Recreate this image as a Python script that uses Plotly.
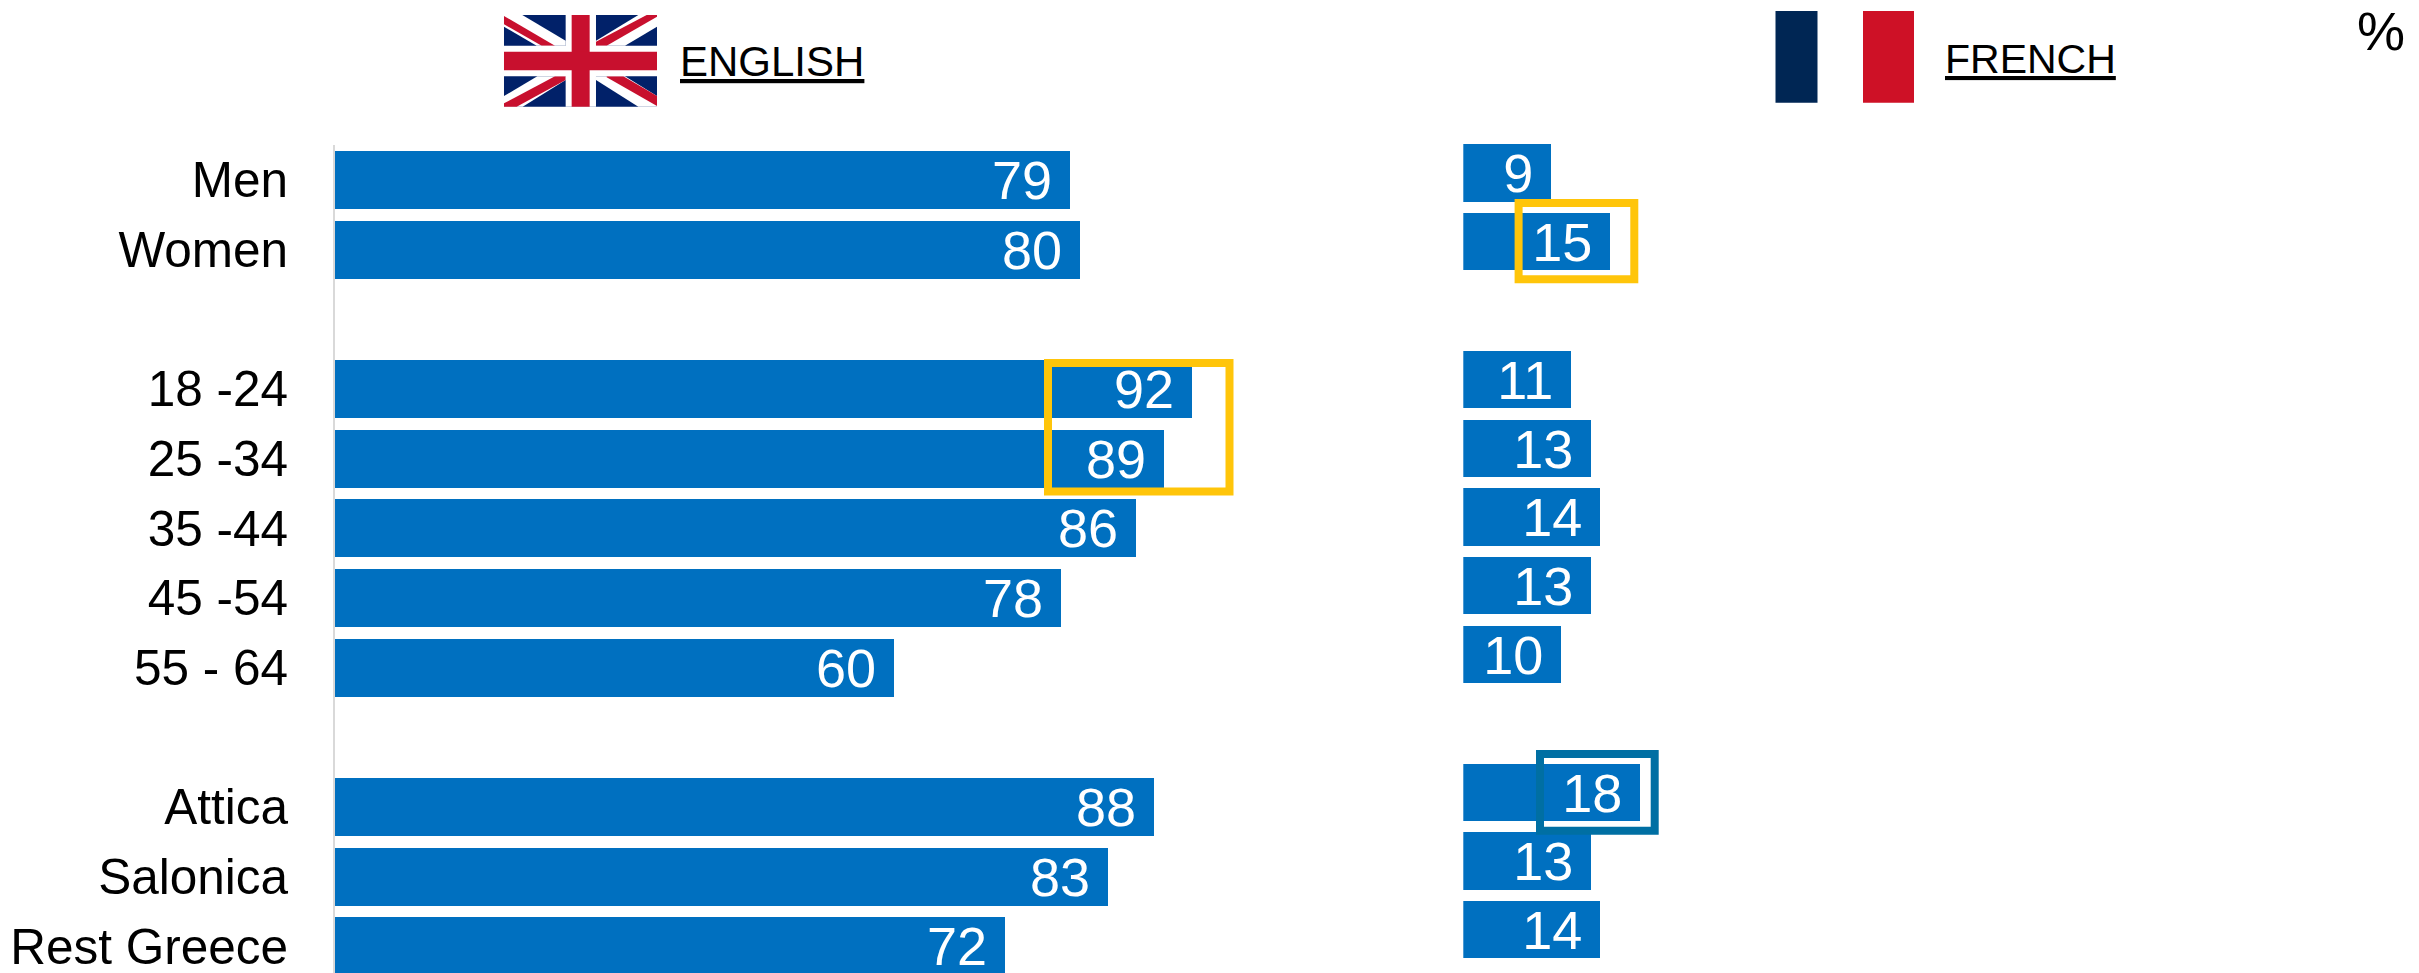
import plotly.graph_objects as go

W, H = 2419, 973

categories = ["Men", "Women", " ", "18 -24", "25 -34", "35 -44", "45 -54", "55 - 64", "  ", "Attica", "Salonica", "Rest Greece"]
english = [79, 80, None, 92, 89, 86, 78, 60, None, 88, 83, 72]
french = [9, 15, None, 11, 13, 14, 13, 10, None, 18, 13, 14]

BLUE = "#0070C0"
FONT = "Liberation Sans"


def px(x):
    return x / W


def py(y):
    return 1 - y / H


def labels(vals):
    return ["" if v is None else f"{v}\u00a0" for v in vals]


fig = go.Figure()
for vals, xa, ya, width in [(english, "x", "y", 0.832), (french, "x2", "y2", 0.834)]:
    fig.add_trace(go.Bar(
        x=vals, y=categories, orientation="h", xaxis=xa, yaxis=ya, width=width,
        marker=dict(color=BLUE, line=dict(width=0)),
        text=labels(vals), textposition="inside", insidetextanchor="end", textangle=0,
        constraintext="none", insidetextfont=dict(family=FONT, size=54, color="white"),
        hoverinfo="skip", showlegend=False,
    ))

shapes = []


def rect(x0, y0, x1, y1, fill=None, line=None, lw=0):
    shapes.append(dict(type="rect", xref="paper", yref="paper", x0=px(x0), x1=px(x1), y0=py(y0), y1=py(y1),
                       fillcolor=fill if fill else "rgba(0,0,0,0)", line=dict(color=line if line else "rgba(0,0,0,0)", width=lw), layer="above"))


def poly(points, fill):
    # points are in 3x crop coordinates of the flag region
    d = "M" + " L".join(f"{px(450 + a / 3):.5f},{py(b / 3):.5f}" for a, b in points) + " Z"
    shapes.append(dict(type="path", xref="paper", yref="paper", path=d, fillcolor=fill, line=dict(width=0), layer="above"))


# highlight boxes
YELLOW = "#FFC50A"
TEAL = "#006FA3"
rect(1048, 363, 1229.5, 491.5, line=YELLOW, lw=8)
rect(1518.6, 203, 1634.3, 279.3, line=YELLOW, lw=8)
rect(1540, 754, 1654.7, 830.7, line=TEAL, lw=8)

# UK flag
NAVY = "#012169"
RED = "#C8102E"
poly([(162, 45), (621, 45), (621, 320), (162, 320)], NAVY)
for p in [
    [(162, 45), (217, 45), (347, 122), (347, 137), (260, 137), (162, 80)],
    [(438, 122), (565, 45), (621, 45), (621, 80), (525, 137), (438, 137)],
    [(162, 288), (262, 229), (347, 229), (347, 240), (218, 320), (162, 320)],
    [(438, 229), (525, 229), (621, 288), (621, 320), (565, 320), (438, 240)],
]:
    poly(p, "#FFFFFF")
for p in [
    [(162, 48), (315, 137), (275, 137), (162, 73)],
    [(590, 45), (621, 45), (621, 50), (470, 137), (438, 137), (438, 125)],
    [(162, 320), (200, 320), (347, 240), (347, 229), (315, 229), (162, 310)],
    [(470, 229), (520, 229), (621, 288), (621, 318), (470, 232)],
]:
    poly(p, RED)
poly([(347, 45), (438, 45), (438, 320), (347, 320)], "#FFFFFF")
poly([(162, 137), (621, 137), (621, 229), (162, 229)], "#FFFFFF")
poly([(365, 45), (419, 45), (419, 320), (365, 320)], RED)
poly([(162, 155), (621, 155), (621, 211), (162, 211)], RED)

# French flag
rect(1775.5, 11, 1817.5, 102.7, fill="#002654")
rect(1863, 11, 1914, 102.7, fill="#CE1126")

annotations = [
    dict(text="ENGLISH", x=px(772), y=py(62), size=42, under=True),
    dict(text="FRENCH", x=px(2030), y=py(59), size=41, under=True),
    dict(text="%", x=px(2381), y=py(31), size=54, under=False),
]
fig.update_layout(
    width=W, height=H, margin=dict(l=0, r=0, t=0, b=0, autoexpand=False), paper_bgcolor="white", plot_bgcolor="white",
    bargap=0, shapes=shapes,
    annotations=[dict(text=a["text"], x=a["x"], y=a["y"], xref="paper", yref="paper", showarrow=False,
                      xanchor="center", yanchor="middle",
                      font=dict(family=FONT, size=a["size"], color="black", lineposition="under" if a["under"] else "none"))
                 for a in annotations],
    xaxis=dict(domain=[px(335), px(1400)], range=[0, (1400 - 335) / 9.31], visible=False),
    yaxis=dict(domain=[0, py(145)], range=[11.382, -0.502], type="category", categoryorder="array", automargin=False,
               categoryarray=categories, tickmode="array", tickvals=categories, ticktext=categories,
               tickfont=dict(family=FONT, size=49.5, color="black"), ticks="", ticklabelstandoff=35,
               showline=True, linecolor="#D9D9D9", linewidth=2, showgrid=False, zeroline=False),
    xaxis2=dict(domain=[px(1463.3), px(2400)], range=[0, (2400 - 1463.3) / 9.82], anchor="y2", visible=False),
    yaxis2=dict(domain=[0, py(130)], range=[11.628, -0.625], type="category", categoryorder="array",
                categoryarray=categories, anchor="x2", visible=False),
)
fig.write_html("out.html", config=dict(displayModeBar=False),
               post_script="document.body.style.margin='0';document.body.style.overflow='hidden';")
